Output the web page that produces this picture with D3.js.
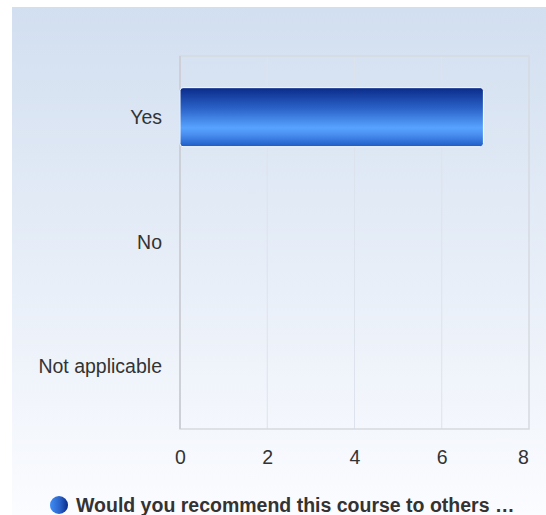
<!DOCTYPE html>
<html><head><meta charset="utf-8">
<script src="https://cdn.jsdelivr.net/npm/d3@7/dist/d3.min.js"></script>
<style>body{margin:0;background:#fff;font-family:"Liberation Sans",Arial,sans-serif}</style>
</head><body><div id="chart"></div>
<script>
const categories = ["Yes", "No", "Not applicable"];
const values = [7, 0, 0];
const xTicks = [0, 2, 4, 6, 8];
const seriesName = "Would you recommend this course to others …";

const W = 546, H = 515;
const FS = 19.5;
const svg = d3.select("#chart").append("svg").attr("width", W).attr("height", H);
const defs = svg.append("defs");
const bg = defs.append("linearGradient").attr("id","bg").attr("x1",0).attr("y1",0).attr("x2",0).attr("y2",1);
bg.append("stop").attr("offset","0%").attr("stop-color","#d2dff0");
bg.append("stop").attr("offset","100%").attr("stop-color","#fbfcff");
const bar = defs.append("linearGradient").attr("id","bar").attr("x1",0).attr("y1",0).attr("x2",0).attr("y2",1);
[["0%","#0a2b8a"],["35%","#2a62c8"],["68%","#58a3ff"],["80%","#4a8ef0"],["100%","#1d5bc6"]].forEach(s=>bar.append("stop").attr("offset",s[0]).attr("stop-color",s[1]));
const leg = defs.append("linearGradient").attr("id","leg").attr("x1",0).attr("y1",0).attr("x2",1).attr("y2",0);
[["0%","#3f8df5"],["55%","#2a62c8"],["100%","#0a2b8a"]].forEach(s=>leg.append("stop").attr("offset",s[0]).attr("stop-color",s[1]));

svg.append("rect").attr("x",12).attr("y",7).attr("width",W-12).attr("height",H-7).attr("fill","url(#bg)");

const m = {l:180, t:56, r:529, b:429};
const x = d3.scaleLinear().domain([0,8]).range([m.l, m.r]);
const y = d3.scaleBand().domain(categories).range([m.t, m.b]);

// grid
svg.append("g").selectAll("line").data(xTicks.slice(1,-1)).join("line")
  .attr("x1",d=>x(d)).attr("x2",d=>x(d)).attr("y1",m.t).attr("y2",m.b)
  .attr("stroke","#dde3ec").attr("stroke-width",1);
// frame
svg.append("rect").attr("x",m.l).attr("y",m.t).attr("width",m.r-m.l).attr("height",m.b-m.t)
  .attr("fill","none").attr("stroke","#d6dae0").attr("stroke-width",1.5);
svg.append("line").attr("x1",m.l).attr("x2",m.l).attr("y1",m.t).attr("y2",m.b).attr("stroke","#cdd1d7").attr("stroke-width",2);

// bars
const bh = 59;
svg.append("g").selectAll("rect").data(categories.map((c,i)=>({c,v:values[i]})).filter(d=>d.v>0)).join("rect")
  .attr("x",x(0)).attr("y",d=>y(d.c)+y.bandwidth()/2-bh/2-1)
  .attr("width",d=>x(d.v)-x(0)-2).attr("height",bh)
  .attr("rx",3).attr("fill","url(#bar)").attr("stroke","#fff").attr("stroke-width",1);

// axes
const xa = svg.append("g").attr("transform",`translate(0,${m.b})`)
  .call(d3.axisBottom(x).tickValues(xTicks).tickSize(0).tickPadding(21));
xa.select(".domain").remove();
xa.selectAll("text").attr("font-size",FS).attr("fill","#333").attr("font-family","'Liberation Sans',Arial,sans-serif")
  .attr("dx",d=>d===8?-6:0);
const ya = svg.append("g").attr("transform",`translate(${m.l},0)`)
  .call(d3.axisLeft(y).tickSize(0).tickPadding(18));
ya.select(".domain").remove();
ya.selectAll("text").attr("font-size",FS).attr("fill","#333").attr("font-family","'Liberation Sans',Arial,sans-serif");

// legend
svg.append("circle").attr("cx",59).attr("cy",505).attr("r",9).attr("fill","url(#leg)");
svg.append("text").attr("x",76).attr("y",512).attr("font-size",FS).attr("font-weight","bold")
  .attr("fill","#333").text(seriesName);
</script></body></html>
